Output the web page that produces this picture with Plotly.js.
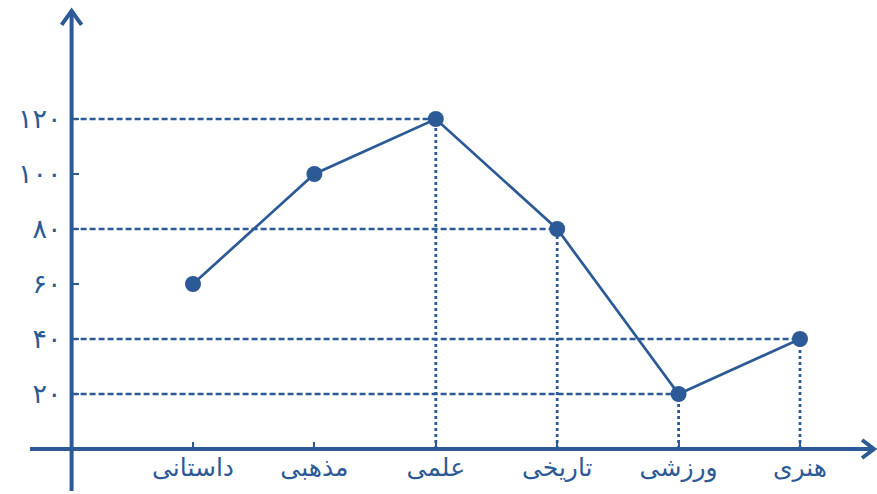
<!DOCTYPE html>
<html>
<head>
<meta charset="utf-8">
<script src="https://cdn.plot.ly/plotly-3.0.1.min.js"></script>
<style>html,body{margin:0;padding:0;background:#fff}#chart{width:877px;height:494px}</style>
</head>
<body>
<div id="chart"></div>
<script>
const categories = ['داستانی', 'مذهبی', 'علمی', 'تاریخی', 'ورزشی', 'هنری'];
const values = [60, 100, 120, 80, 20, 40];
const guideCategories = ['علمی', 'تاریخی', 'ورزشی', 'هنری'];
const yTickValues = [20, 40, 60, 80, 100, 120];
const yTickLabels = ['۲۰', '۴۰', '۶۰', '۸۰', '۱۰۰', '۱۲۰'];

const C = '#2C5A96';
const W = 877, H = 494;
const xIdx = categories.map((c, i) => i);

// guide lines built from data
const hx = [], hy = [], vx = [], vy = [];
guideCategories.forEach(c => {
  const i = categories.indexOf(c);
  hx.push(-1, i, null); hy.push(values[i], values[i], null);
  vx.push(i, i, null); vy.push(0, values[i], null);
});

const traces = [
  {x: hx, y: hy, mode: 'lines', line: {color: C, width: 2.6, dash: '6px,3px'}, hoverinfo: 'skip', showlegend: false},
  {x: vx, y: vy, mode: 'lines', line: {color: C, width: 2.8, dash: '3px,3px'}, hoverinfo: 'skip', showlegend: false},
  {x: xIdx, y: values, mode: 'lines+markers', line: {color: C, width: 2.7},
   marker: {color: C, size: 16}, showlegend: false}
];

// pixel calibration
const x0px = 193, dx = 121.4;
const y0px = 449, dy = 2.75;
const xr = [-x0px / dx, (W - x0px) / dx];
const yr = [-(H - y0px) / dy, y0px / dy];

const layout = {
  width: W, height: H,
  margin: {l: 0, r: 0, t: 0, b: 0},
  paper_bgcolor: '#fff', plot_bgcolor: '#fff',
  showlegend: false,
  font: {family: 'DejaVu Sans', color: C},
  xaxis: {
    type: 'linear', range: xr, anchor: 'free', position: (H - y0px) / H,
    tickvals: xIdx, ticktext: categories, ticks: 'inside', ticklen: 7, tickwidth: 2, tickcolor: C,
    showgrid: false, zeroline: false, showline: false,
    tickfont: {family: 'DejaVu Sans', size: 25, color: C}, ticklabelstandoff: 1
  },
  yaxis: {
    range: yr, anchor: 'free', position: (x0px - dx) / W,
    tickvals: yTickValues, ticktext: yTickLabels, ticks: 'inside', ticklen: 6, tickwidth: 2, tickcolor: C,
    showgrid: false, zeroline: false, showline: false,
    tickfont: {family: 'DejaVu Sans', size: 27, color: C}, ticklabelstandoff: 10
  },
  shapes: [
    {type: 'line', xref: 'x', yref: 'y', x0: -1, x1: -1, y0: -15.3, y1: 158.8, line: {color: C, width: 4}, layer: 'below'},
    {type: 'line', xref: 'x', yref: 'y', x0: -1.343, x1: 5.6, y0: 0, y1: 0, line: {color: C, width: 4}, layer: 'below'},
    {type: 'path', xref: 'x', yref: 'y', xsizemode: 'pixel', ysizemode: 'pixel', xanchor: -1, yanchor: 159.3,
     path: 'M -10 -14 L 0 0 L 10 -14', line: {color: C, width: 4}},
    {type: 'path', xref: 'x', yref: 'y', xsizemode: 'pixel', ysizemode: 'pixel', xanchor: 5.61, yanchor: 0,
     path: 'M -12 9 L 0 0 L -12 -9', line: {color: C, width: 4}}
  ]
};

Plotly.newPlot('chart', traces, layout, {displayModeBar: false, staticPlot: true});
</script>
</body>
</html>
